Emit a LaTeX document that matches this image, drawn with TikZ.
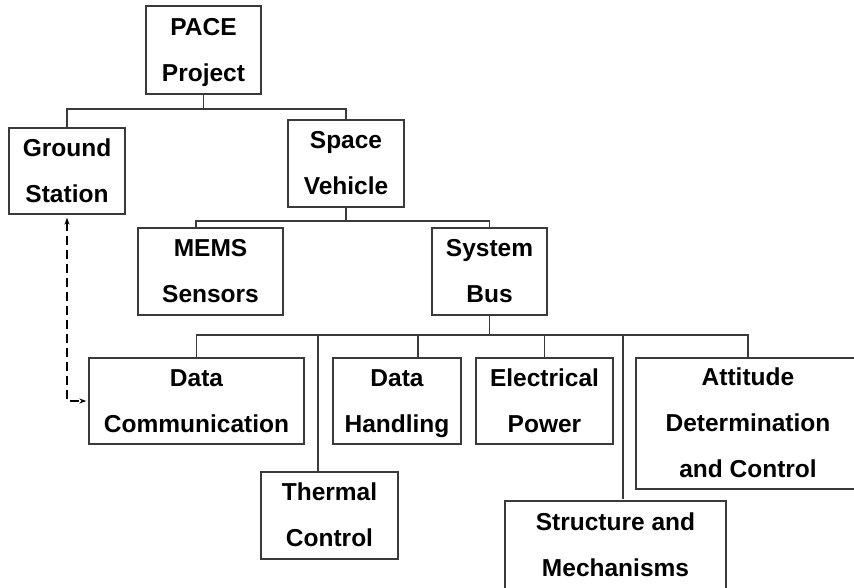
\documentclass[tikz,border=0pt]{standalone}
\usepackage{fontspec}
\setmainfont{Liberation Sans}
\usetikzlibrary{arrows.meta}
\definecolor{linec}{HTML}{3A3A3A}
\newcommand{\bxs}{\rule[-11.5pt]{0pt}{39pt}}
\tikzset{
  x=1pt, y=-1pt,
  box/.style={draw=linec, line width=1.3pt, inner sep=0pt, align=center,
    font=\bfseries\fontsize{24.5}{46}\selectfont},
  conn/.style={draw=linec, line width=1.3pt},
  link/.style={draw=black, line width=1.3pt, dash pattern=on 9pt off 5pt,
    {Stealth[length=7pt,width=5pt]}-{Stealth[length=7pt,width=5pt]},
    shorten <=3pt, shorten >=2pt}
}
\begin{document}
\begin{tikzpicture}
\clip (0,0) rectangle (854,587);
\fill[white] (0,0) rectangle (854,587);
% nodes
\node[box, minimum width=115pt, minimum height=88pt] (pace) at (203.5,50) {\bxs PACE\\\bxs Project};
\node[box, minimum width=116pt, minimum height=86pt] (gs) at (67,171) {\bxs Ground\\\bxs Station};
\node[box, minimum width=116pt, minimum height=87pt] (sv) at (346,163.5) {\bxs Space\\\bxs Vehicle};
\node[box, minimum width=145pt, minimum height=87pt] (mems) at (210.5,271.5) {\bxs MEMS\\\bxs Sensors};
\node[box, minimum width=115pt, minimum height=87pt] (sb) at (489.5,271.5) {\bxs System\\\bxs Bus};
\node[box, minimum width=215pt, minimum height=86pt] (dc) at (196.5,401) {\bxs Data\\\bxs Communication};
\node[box, minimum width=137pt, minimum height=87pt] (tc) at (329.5,515.5) {\bxs Thermal\\\bxs Control};
\node[box, minimum width=128pt, minimum height=86pt] (dh) at (397,401) {\bxs Data\\\bxs Handling};
\node[box, minimum width=137pt, minimum height=86pt] (ep) at (544.5,401) {\bxs Electrical\\\bxs Power};
\node[box, minimum width=221pt, minimum height=88pt] (sm) at (615.5,545) {\bxs Structure and\\\bxs Mechanisms};
\node[box, minimum width=224pt, minimum height=131pt] (ad) at (748,423.5) {\bxs Attitude\\\bxs Determination\\\bxs and Control};
% junctions
\coordinate (j1) at (203.5,109);
\coordinate (j2) at (346,221);
\coordinate (j3) at (489.5,335);
\coordinate (memsTop) at (196,228);
\coordinate (tcTop) at (318,472);
\coordinate (dhTop) at (418,358);
\coordinate (smTop) at (623,499);
% tree connectors
\draw[conn] (pace.south) -- (j1);
\draw[conn] (gs.north) |- (j1) -| (sv.north);
\draw[conn] (sv.south) -- (j2);
\draw[conn] (memsTop) |- (j2) -| (sb.north);
\draw[conn] (sb.south) -- (j3);
\draw[conn] (dc.north) |- (j3) -| (ad.north);
\draw[conn] (tcTop) -- (tcTop |- j3);
\draw[conn] (dhTop) -- (dhTop |- j3);
\draw[conn] (ep.north) -- (ep.north |- j3);
\draw[conn] (smTop) -- (smTop |- j3);
% dashed link
\draw[link] (gs.south) |- (dc.west);
\end{tikzpicture}
\end{document}
